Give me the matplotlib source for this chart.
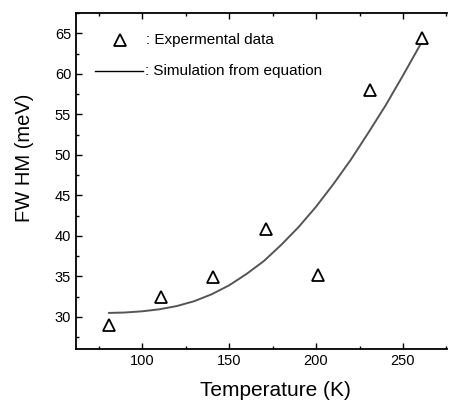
import matplotlib
matplotlib.use("Agg")
import matplotlib.pyplot as plt
from matplotlib.ticker import MultipleLocator

plt.rcParams['font.family'] = ['Liberation Sans', 'DejaVu Sans']

# Experimental data
temp_exp = [81, 111, 141, 171, 201, 231, 261]
fwhm_exp = [29.0, 32.5, 34.9, 40.9, 35.2, 58.0, 64.4]

# Simulation curve
temp_sim = [81, 90, 100, 110, 120, 130, 140, 150, 160, 170, 180, 190,
            200, 210, 220, 230, 240, 250, 261]
fwhm_sim = [30.5, 30.55, 30.7, 30.95, 31.35, 31.95, 32.8, 33.9, 35.3, 36.9,
            38.9, 41.1, 43.6, 46.4, 49.4, 52.7, 56.1, 59.8, 64.0]

W, H = 449, 403
fig = plt.figure(figsize=(W/100, H/100), dpi=100)
L, R, T, B = 76, 447, 13, 349
ax = fig.add_axes([L/W, 1-B/H, (R-L)/W, (B-T)/H])

ax.plot(temp_sim, fwhm_sim, color='#555555', lw=1.4, zorder=2)
ax.plot(temp_exp, fwhm_exp, linestyle='none', marker='^', markersize=9,
        markerfacecolor='white', markeredgecolor='black', markeredgewidth=1.3, zorder=3)

ax.set_xlim(62, 275.3)
ax.set_ylim(26.05, 67.5)
ax.xaxis.set_major_locator(MultipleLocator(50))
ax.xaxis.set_minor_locator(MultipleLocator(25))
ax.yaxis.set_major_locator(MultipleLocator(5))
ax.yaxis.set_minor_locator(MultipleLocator(2.5))
ax.tick_params(which='both', direction='in', top=True, right=False, labelsize=10.5)
ax.tick_params(which='major', length=4, width=1)
ax.tick_params(which='minor', length=2.5, width=1)
for s in ax.spines.values():
    s.set_linewidth(1.3)
ax.spines['right'].set_visible(False)

# Axis titles placed as in the reference
fig.text(275.5/W, 1-390/H, 'Temperature (K)', fontsize=15, ha='center', va='center')
fig.text(24/W, 1-157.5/H, 'FW HM (meV)', fontsize=14.5, ha='center', va='center',
         rotation=90)

# Legend drawn manually
def axx(px):
    return (px - L) / (R - L)

def axy(py):
    return (B - py) / (B - T)

ax.plot([axx(120)], [axy(40)], transform=ax.transAxes, marker='^', markersize=9,
        markerfacecolor='white', markeredgecolor='black', markeredgewidth=1.3,
        linestyle='none', clip_on=False)
ax.text(axx(146), axy(40), ': Expermental data', transform=ax.transAxes,
        fontsize=11, va='center', ha='left')
ax.plot([axx(95), axx(143)], [axy(70.7), axy(70.7)], transform=ax.transAxes,
        color='black', lw=1)
ax.text(axx(145), axy(70.7), ': Simulation from equation', transform=ax.transAxes,
        fontsize=11, va='center', ha='left')

fig.savefig('out.png', dpi=100)
